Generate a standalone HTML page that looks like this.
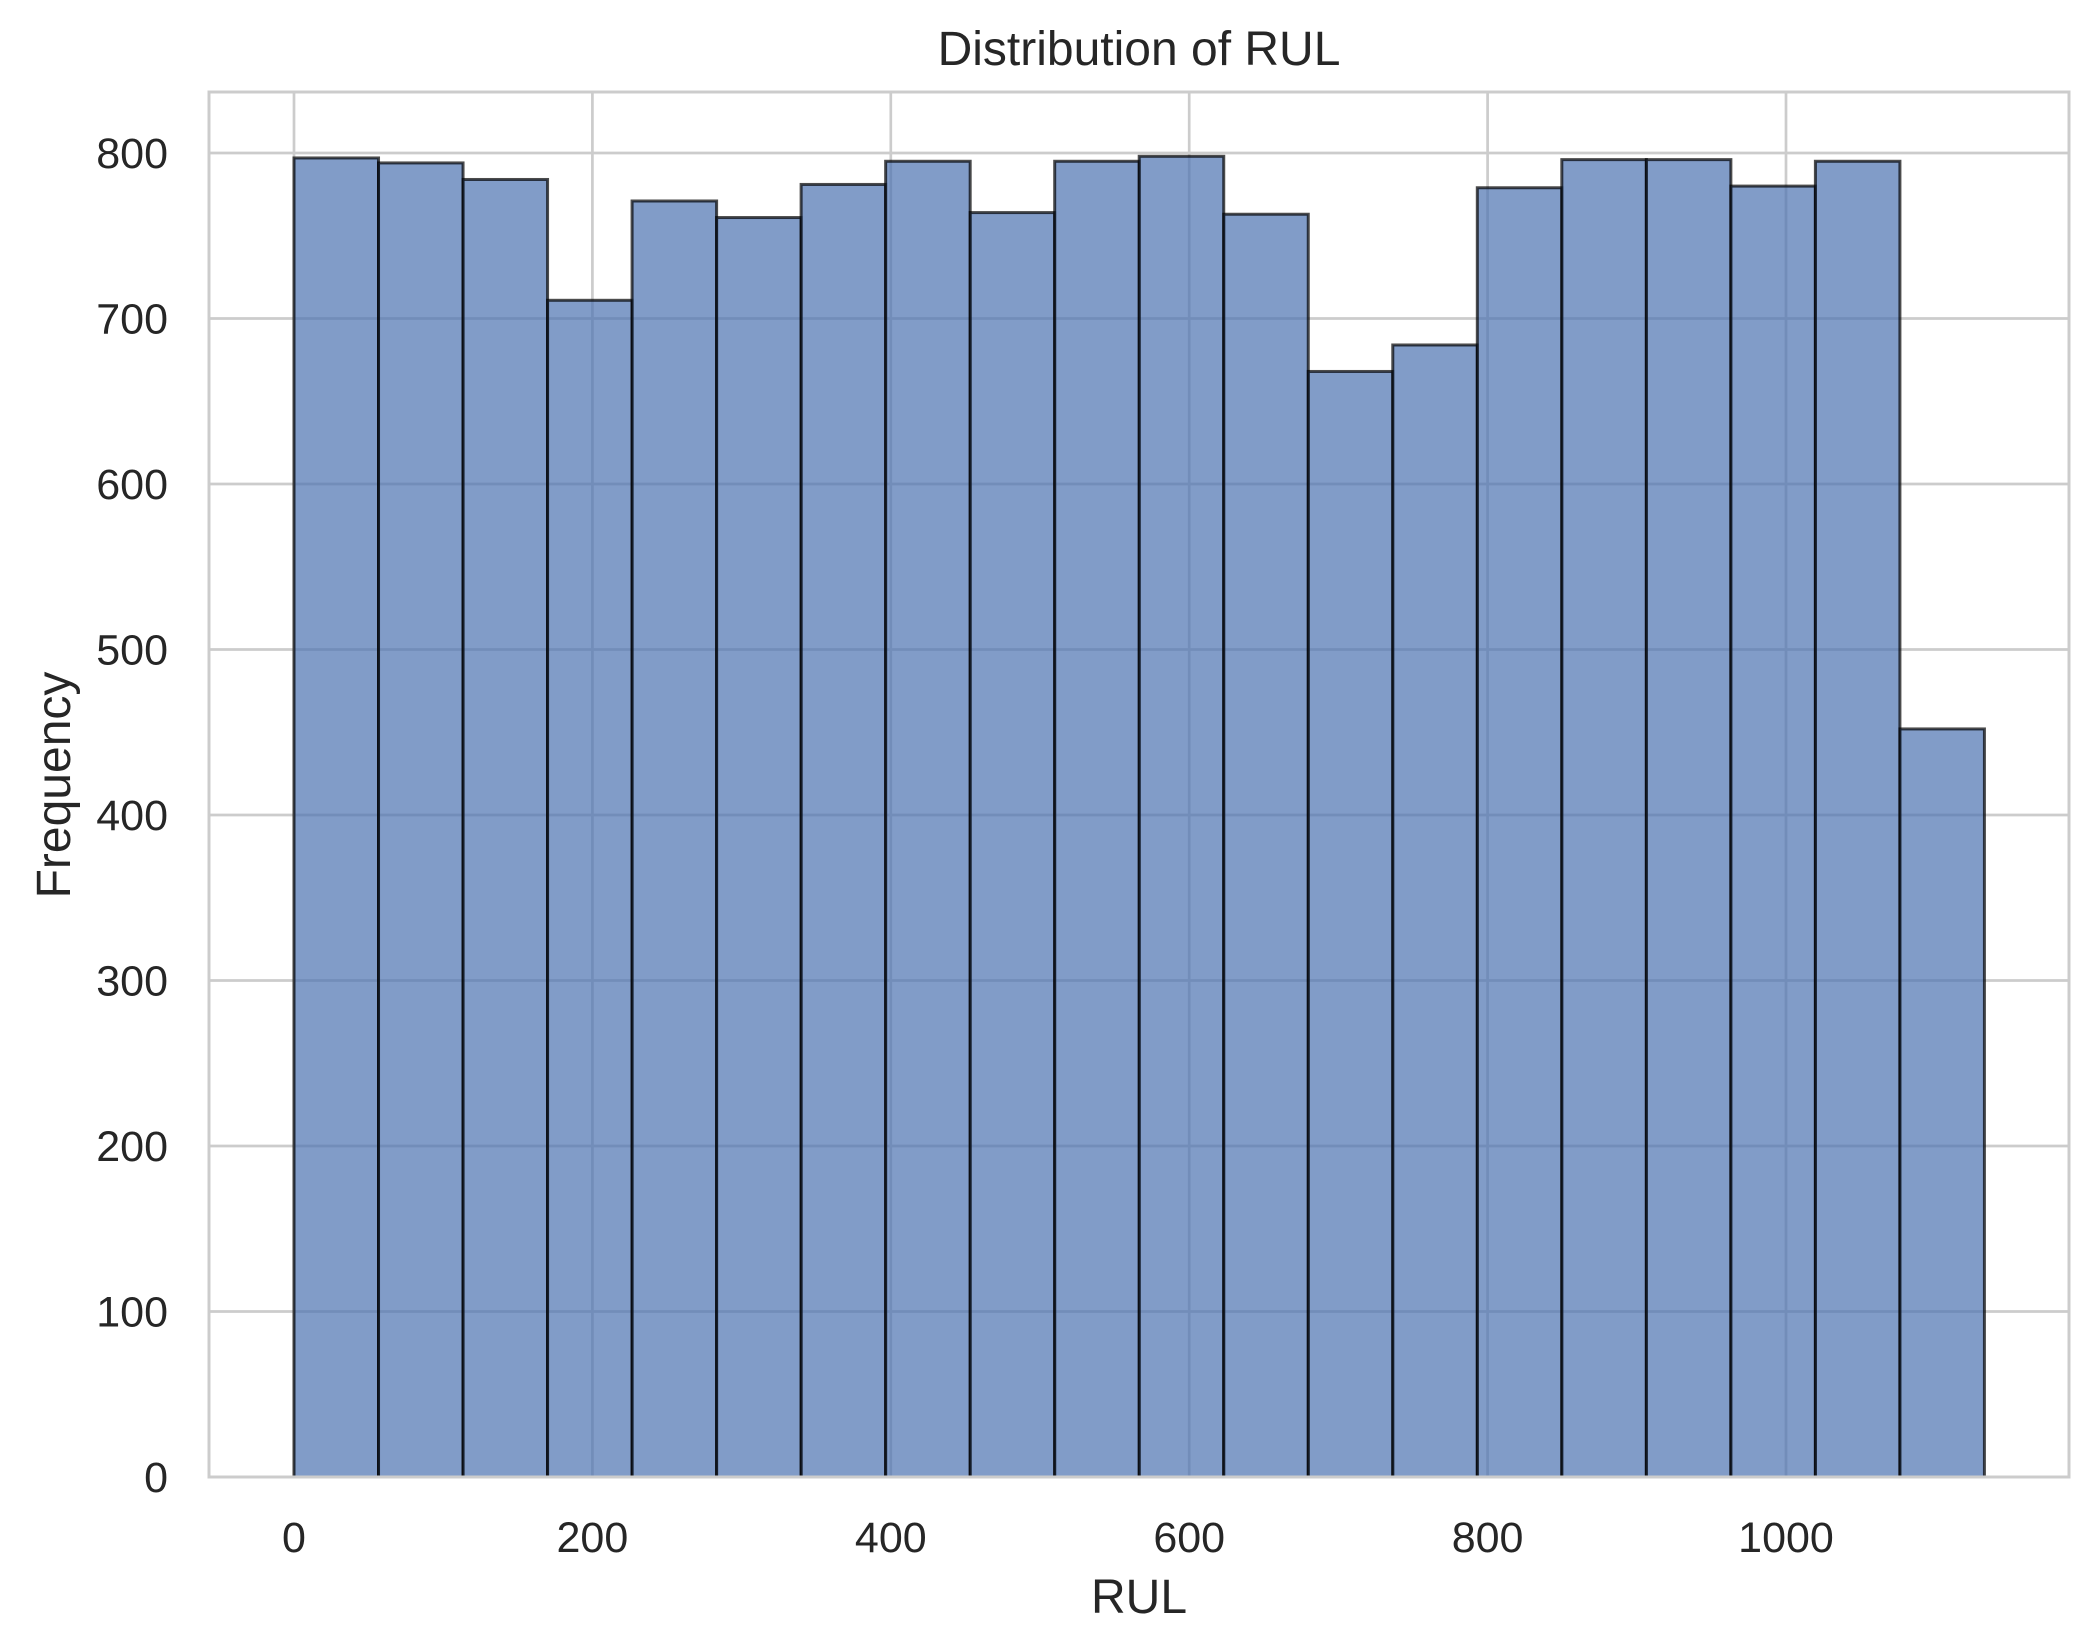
<!DOCTYPE html>
<html><head><meta charset="utf-8"><style>
body{margin:0;background:#fff}
svg{display:block;font-family:"Liberation Sans",Arial,sans-serif}
</style></head><body>
<svg id="chart" width="2099" height="1652" viewBox="0 0 2099 1652" xmlns="http://www.w3.org/2000/svg">
<rect width="2099" height="1652" fill="#fff"/>
<g id="grid"></g>
<g id="bars"></g>
<rect x="209" y="92" width="1860" height="1385" fill="none" stroke="#cccccc" stroke-width="3"/>
<g id="ticks" fill="#262626" font-size="43"></g>
<text x="1139" y="65" text-anchor="middle" font-size="48" fill="#262626">Distribution of RUL</text>
<text x="1139" y="1613" text-anchor="middle" font-size="48" fill="#262626">RUL</text>
<text transform="translate(70,785) rotate(-90)" text-anchor="middle" font-size="48" fill="#262626">Frequency</text>
</svg>
<script>
const counts=[797,794,784,711,771,761,781,795,764,795,798,763,668,684,779,796,796,780,795,452];
const binStart=0;
const binEnd=1133;
const xTicks=[0,200,400,600,800,1000];
const yTicks=[0,100,200,300,400,500,600,700,800];

const NS="http://www.w3.org/2000/svg";
function X(v){return 294+v*1.492;}
function Y(v){return 1477-v*1.655;}
function mk(tag,attrs,parent){const e=document.createElementNS(NS,tag);for(const k in attrs)e.setAttribute(k,attrs[k]);parent.appendChild(e);return e;}
const grid=document.getElementById('grid'),bars=document.getElementById('bars'),ticks=document.getElementById('ticks');
xTicks.forEach(t=>{
  const l=mk('line',{x1:X(t),x2:X(t),y1:92,y2:1477,stroke:'#cccccc','stroke-width':2.7},grid);
  
  
  const tx=mk('text',{x:X(t),y:1552,'text-anchor':'middle'},ticks);
  tx.textContent=t;
  
  
});
yTicks.forEach(t=>{
  const l=mk('line',{x1:209,x2:2069,y1:Y(t),y2:Y(t),stroke:'#cccccc','stroke-width':2.7},grid);
  
  
  const tx=mk('text',{x:168,y:Y(t)+15,'text-anchor':'end'},ticks);
  tx.textContent=t;
  
  
});
const bw=(binEnd-binStart)/counts.length;
counts.forEach((c,i)=>{
  const x0=X(binStart+i*bw),x1=X(binStart+(i+1)*bw);
  const r=mk('rect',{x:x0,y:Y(c),width:x1-x0,height:Y(0)-Y(c),fill:'#4c72b0','fill-opacity':0.7,stroke:'#000','stroke-opacity':0.7,'stroke-width':3},bars);
  
  
});
</script>
</body></html>
